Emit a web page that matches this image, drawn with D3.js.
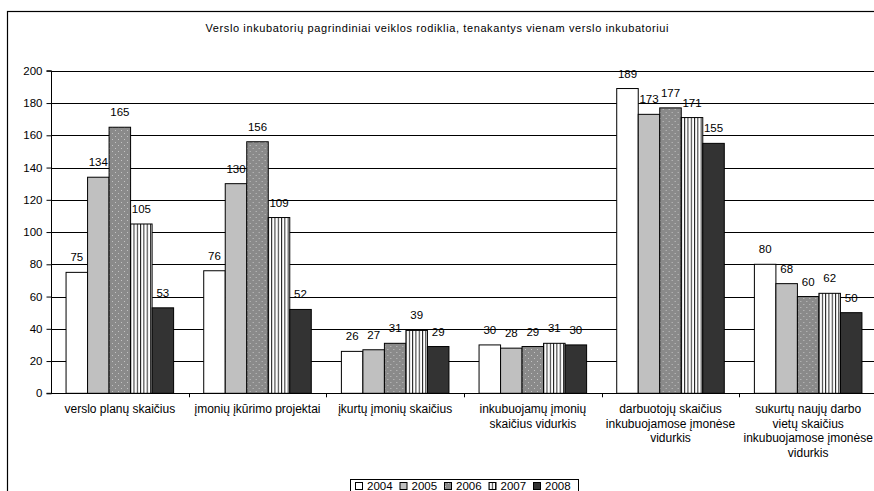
<!DOCTYPE html>
<html>
<head>
<meta charset="utf-8">
<script src="https://cdn.jsdelivr.net/npm/d3@7"></script>
<style>
  html, body { margin: 0; padding: 0; background: #fff; }
  svg { display: block; font-family: "Liberation Sans", Arial, sans-serif; }
  text { fill: #000; }
</style>
</head>
<body>
<svg id="chart" width="874" height="491"></svg>
<script>
(function() {

    // data
    var categories = [
        ["verslo planų skaičius"],
        ["įmonių įkūrimo projektai"],
        ["įkurtų įmonių skaičius"],
        ["inkubuojamų įmonių", "skaičius vidurkis"],
        ["darbuotojų skaičius", "inkubuojamose įmonėse", "vidurkis"],
        ["sukurtų naujų darbo", "vietų skaičius", "inkubuojamose įmonėse", "vidurkis"]
    ];
    var years = ["2004", "2005", "2006", "2007", "2008"];
    var v2004 = [75, 76, 26, 30, 189, 80];
    var v2005 = [134, 130, 27, 28, 173, 68];
    var v2006 = [165, 156, 31, 29, 177, 60];
    var v2007 = [105, 109, 39, 31, 171, 62];
    var v2008 = [53, 52, 29, 30, 155, 50];
    var series = [v2004, v2005, v2006, v2007, v2008];
    var yTicks = [0, 20, 40, 60, 80, 100, 120, 140, 160, 180, 200];
    var title = "Verslo inkubatorių pagrindiniai veiklos rodiklia, tenakantys vienam verslo inkubatoriui";

    var svg = d3.select("#chart"),
        left = 51, right = 877, top = 70.8, bottom = 393.3;

    // patterns
    var defs = svg.append("defs");
    var dots = defs.append("pattern").attr("id", "dots")
        .attr("patternUnits", "userSpaceOnUse").attr("width", 6).attr("height", 6);
    dots.append("rect").attr("width", 6).attr("height", 6).attr("fill", "#8a8a8a");
    dots.append("rect").attr("x", 1).attr("y", 1).attr("width", 1).attr("height", 1).attr("fill", "#c4c4c4");
    dots.append("rect").attr("x", 4).attr("y", 4).attr("width", 1).attr("height", 1).attr("fill", "#c4c4c4");

    var stripes = defs.append("pattern").attr("id", "stripes")
        .attr("patternUnits", "userSpaceOnUse").attr("width", 3.3).attr("height", 4);
    stripes.append("rect").attr("width", 3.3).attr("height", 4).attr("fill", "#fff");
    stripes.append("rect").attr("x", 0).attr("width", 1).attr("height", 4).attr("fill", "#222");

    var fills = ["#ffffff", "#c0c0c0", "url(#dots)", "url(#stripes)", "#333333"];
    var color = d3.scaleOrdinal().domain(years).range(fills);

    // outer frame
    svg.append("rect")
        .attr("x", 7.5).attr("y", 11.5)
        .attr("width", 900).attr("height", 500)
        .attr("fill", "none").attr("stroke", "#000").attr("stroke-width", 1.2);

    svg.append("text")
        .attr("x", 437).attr("y", 32)
        .attr("text-anchor", "middle")
        .attr("font-size", "11px")
        .attr("textLength", 463)
        .attr("lengthAdjust", "spacing")
        .text(title);

    var x0 = d3.scaleBand().domain(d3.range(categories.length)).range([left, right]).padding(0);
    var x1 = d3.scaleBand().domain(years).range([0, x0.step()]).paddingInner(0).paddingOuter(0.7);
    var y = d3.scaleLinear().domain([0, 200]).range([bottom, top]);

    // gridlines
    svg.append("g").selectAll("line")
        .data(yTicks.filter(function(d) { return d > 0; }))
        .enter().append("line")
        .attr("x1", left).attr("x2", right)
        .attr("y1", function(d) { return Math.round(y(d)) + 0.5; })
        .attr("y2", function(d) { return Math.round(y(d)) + 0.5; })
        .attr("stroke", "#000").attr("stroke-width", 1);

    // bars
    var groups = svg.append("g").selectAll("g")
        .data(categories)
        .enter().append("g")
        .attr("transform", function(d, i) { return "translate(" + x0(i) + ",0)"; });

    groups.each(function(c, i) {
        var g = d3.select(this);
        var vals = years.map(function(yr, k) { return { year: yr, value: series[k][i] }; });
        g.selectAll("rect").data(vals).enter().append("rect")
            .attr("x", function(d) { return x1(d.year); })
            .attr("y", function(d) { return y(d.value); })
            .attr("width", x1.bandwidth())
            .attr("height", function(d) { return y(0) - y(d.value); })
            .attr("fill", function(d) { return color(d.year); })
            .attr("stroke", "#000").attr("stroke-width", 1);
        g.selectAll("text").data(vals).enter().append("text")
            .attr("x", function(d) { return x1(d.year) + x1.bandwidth() / 2; })
            .attr("y", function(d) { return y(d.value) - 11; })
            .attr("text-anchor", "middle")
            .attr("font-size", "11.5px")
            .text(function(d) { return d.value; });
    });

    // y axis
    var yAxis = svg.append("g")
        .attr("transform", "translate(" + (left + 0.5) + ",0)")
        .call(d3.axisLeft(y).tickValues(yTicks).tickSize(5).tickPadding(4));
    yAxis.selectAll("text").attr("font-size", "11.5px").attr("fill", "#000")
        .attr("font-family", "\"Liberation Sans\", Arial, sans-serif");
    yAxis.selectAll("line, path").attr("stroke", "#000");
    yAxis.select(".domain").attr("d", "M-5," + y(200) + "H0V" + y(0) + "H-5");

    // x axis line + ticks between categories
    svg.append("line")
        .attr("x1", left).attr("x2", right)
        .attr("y1", Math.round(bottom) + 0.5).attr("y2", Math.round(bottom) + 0.5)
        .attr("stroke", "#000").attr("stroke-width", 1.2);
    svg.append("g").selectAll("line")
        .data(d3.range(1, categories.length))
        .enter().append("line")
        .attr("x1", function(i) { return Math.round(x0(i)) + 0.5; })
        .attr("x2", function(i) { return Math.round(x0(i)) + 0.5; })
        .attr("y1", bottom).attr("y2", bottom + 4)
        .attr("stroke", "#000");

    // category labels
    var lbl = svg.append("g").selectAll("text")
        .data(categories)
        .enter().append("text")
        .attr("text-anchor", "middle")
        .attr("font-size", "12px")
        .attr("transform", function(d, i) { return "translate(" + (x0(i) + x0.bandwidth() / 2) + ",413)"; });
    lbl.selectAll("tspan").data(function(d) { return d; })
        .enter().append("tspan")
        .attr("x", 0)
        .attr("y", function(d, k) { return k * 14.6; })
        .text(function(d) { return d; });

    // legend
    var legend = svg.append("g").attr("transform", "translate(350,479)");
    legend.append("rect")
        .attr("x", 0.5).attr("y", 0.5).attr("width", 228).attr("height", 20)
        .attr("fill", "#fff").attr("stroke", "#000");
    var item = legend.selectAll("g.item").data(years).enter().append("g")
        .attr("transform", function(d, i) { return "translate(" + (5 + i * 44.5) + ",0)"; });
    item.append("rect")
        .attr("x", 0.5).attr("y", 3.5).attr("width", 7).attr("height", 7)
        .attr("fill", function(d) { return color(d); })
        .attr("stroke", "#000");
    item.append("text")
        .attr("x", 12).attr("y", 11)
        .attr("font-size", "11.5px")
        .text(function(d) { return d; });
})();
</script>
</body>
</html>
